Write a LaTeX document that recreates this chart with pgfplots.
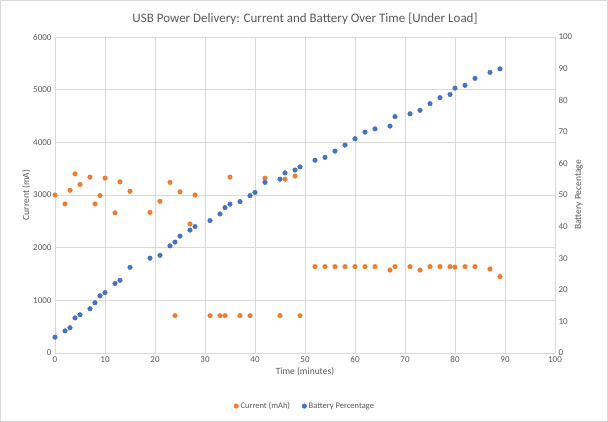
\documentclass[border=0pt]{standalone}
\usepackage{pgfplots}
\pgfplotsset{compat=1.18}
\usepackage{fontspec}
\setmainfont{Carlito}
\definecolor{og}{RGB}{237,125,49}
\definecolor{bl}{RGB}{68,114,196}
\definecolor{tx}{RGB}{89,89,89}
\definecolor{gr}{RGB}{217,217,217}
\begin{document}
\begin{tikzpicture}[x=1pt,y=1pt]
\draw[gr,line width=0.6pt] (0.5,0.5) rectangle (607.5,421.5);
\useasboundingbox (0,0) rectangle (608,422);
\pgfplotsset{every axis/.style={scale only axis, width=500pt, height=316pt, at={(55pt,69pt)}, anchor=south west,
 axis line style={draw=none}, tick style={draw=none}, tick label style={font=\fontsize{9}{10}\selectfont, text=tx},
 label style={font=\fontsize{9.5}{11}\selectfont, text=tx}, /pgf/number format/assume math mode=true,
 scaled y ticks=false, /pgf/number format/1000 sep={}}}
\begin{axis}[xmin=0,xmax=100,ymin=0,ymax=6000,xtick={0,10,...,100},ytick={0,1000,...,6000},
 grid=major, grid style={gr,line width=0.6pt},
 xlabel={Time (minutes)}, ylabel={Current (mA)}, xlabel style={yshift=2pt}, ylabel style={yshift=-4pt},
 title={USB Power Delivery: Current and Battery Over Time [Under Load]}, title style={font=\fontsize{13}{15}\selectfont, text=tx, yshift=3pt},
 legend style={at={(0.5,-0.168)},anchor=center,draw=none,legend columns=2,font=\fontsize{8.5}{10}\selectfont, text=tx,
  /tikz/every even column/.append style={column sep=10pt}}, legend cell align=left]
\addplot[only marks, mark=*, mark size=2.3pt, og] coordinates {
(0,3000)(2,2830)(3,3090)(4,3400)(5,3200)(7,3340)(8,2830)(9,2990)(10,3320)(12,2660)(13,3250)(15,3070)
(19,2670)(21,2880)(23,3240)(24,710)(25,3060)(27,2450)(28,3000)(31,710)(33,710)(34,710)(35,3340)(37,710)(39,710)
(42,3320)(45,710)(46,3300)(48,3360)(49,710)
(52,1640)(54,1640)(56,1640)(58,1640)(60,1640)(62,1640)(64,1640)(67,1575)(68,1640)(71,1640)(73,1575)(75,1640)
(77,1640)(79,1640)(80,1630)(82,1640)(84,1640)(87,1595)(89,1450)};
\addlegendentry{Current (mAh)}
\addlegendimage{only marks, mark=*, mark size=2.3pt, bl}
\addlegendentry{Battery Percentage}
\end{axis}
\begin{axis}[xmin=0,xmax=100,ymin=0,ymax=100,axis y line*=right, axis x line=none, ytick={0,10,...,100},
 ylabel={Battery Pecentage}, ylabel style={yshift=4pt}]
\addplot[only marks, mark=*, mark size=2.3pt, bl] coordinates {
(0,5.0)(2,7.0)(3,8.0)(4,11.1)(5,12.1)(7,14.0)(8,15.9)(9,18.1)(10,19.1)(12,22.0)(13,23.0)(15,27.1)
(19,30.0)(21,30.9)(23,33.9)(24,35.1)(25,37.0)(27,38.9)(28,40.0)(31,41.9)(33,44.0)(34,46.0)(35,47.1)(37,47.9)
(39,49.8)(40,50.8)(42,54.0)(45,55.0)(46,57.0)(48,57.9)(49,58.9)(52,61.0)(54,61.9)(56,63.9)(58,65.8)(60,67.8)
(62,69.9)(64,70.9)(67,71.8)(68,74.8)(71,75.7)(73,76.8)(75,78.9)(77,80.8)(79,81.8)(80,83.8)(82,84.7)(84,86.9)
(87,88.8)(89,89.9)};
\end{axis}
\end{tikzpicture}
\end{document}
